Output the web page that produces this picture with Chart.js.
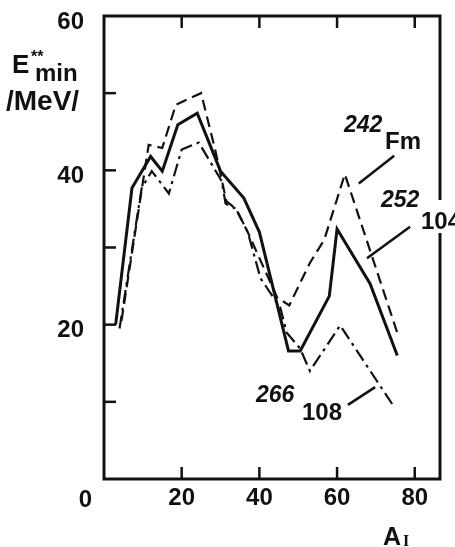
<!DOCTYPE html>
<html lang="en">
<head>
<meta charset="UTF-8">
<title>E*min vs A_I</title>
<script src="https://cdn.jsdelivr.net/npm/chart.js"></script>
<style>
body { margin: 0; background: #fff; }
#wrap { width: 455px; height: 547px; position: relative; }
</style>
</head>
<body>
<div id="wrap"><canvas id="chart"></canvas></div>
<script>
// 242Fm (dashed)
const fmA = [4.5, 11.5, 15, 18.5, 25, 28.7, 31.5, 34, 37, 40.3, 44.6, 47.7, 53, 56.7, 62, 75.6];
const fmE = [20.5, 43.3, 42.9, 48.5, 50, 42.5, 36, 35, 32, 28.3, 23.5, 22.5, 28, 31, 39.5, 18.8];
// 252 104 (solid)
const z104A = [3, 7.2, 12, 15, 19, 24, 30, 36, 40, 47.5, 50.5, 58, 60, 68.5, 75.5];
const z104E = [20, 37.7, 41.8, 39.9, 45.9, 47.4, 39.9, 36.4, 32, 16.6, 16.6, 23.7, 32.4, 25.3, 16];
// 266 108 (dash-dot)
const z108A = [4, 9.7, 12.3, 16.7, 20, 24.4, 30.3, 31.3, 34, 37, 40.3, 45.4, 47, 50.5, 53, 60.8, 74.6];
const z108E = [19.5, 37.7, 39.9, 37, 42.7, 43.6, 38.6, 35.7, 35, 32, 26, 22.2, 19, 16.9, 14, 19.9, 9.4];

const xTicks = [0, 20, 40, 60, 80];
const xTickLabels = ["", "20", "40", "60", "80"];
const yTicks = [10, 20, 30, 40, 50];
const yTickLabels = ["20", "40", "60"];
const yLabelVals = [20, 40, 60];

const pts = (a, e) => a.map((v, i) => ({x: v, y: e[i]}));

// frame, inward ticks, labels, annotations
const decor = {
    id: 'decor',
    afterDraw(chart) {
        const c = chart.ctx, xs = chart.scales.x, ys = chart.scales.y, ca = chart.chartArea;
        const F = '"Liberation Sans", Arial, sans-serif';
        c.save();
        c.strokeStyle = '#111';
        c.fillStyle = '#111';
        c.lineWidth = 3;
        c.strokeRect(ca.left, ca.top, ca.right - ca.left, ca.bottom - ca.top);
        c.lineWidth = 2.5;
        xTicks.slice(1).forEach(v => {
            const px = xs.getPixelForValue(v);
            c.beginPath(); c.moveTo(px, ca.bottom); c.lineTo(px, ca.bottom - 12); c.stroke();
            c.beginPath(); c.moveTo(px, ca.top); c.lineTo(px, ca.top + 12); c.stroke();
        });
        yTicks.forEach(v => {
            const py = ys.getPixelForValue(v);
            c.beginPath(); c.moveTo(ca.left, py); c.lineTo(ca.left + 12, py); c.stroke();
        });
        c.font = 'bold 24px ' + F;
        c.textBaseline = 'middle';
        c.textAlign = 'center';
        xTicks.forEach((v, i) => {
            if (xTickLabels[i]) c.fillText(xTickLabels[i], xs.getPixelForValue(v), 498);
        });
        c.textAlign = 'right';
        yLabelVals.forEach((v, i) => {
            c.fillText(yTickLabels[i], ca.left - 20, ys.getPixelForValue(v) + 6);
        });
        c.fillText("0", ca.left - 12, 500);

        // axis titles
        c.textAlign = 'left';
        c.textBaseline = 'alphabetic';
        c.font = 'bold 26px ' + F;
        c.fillText("E", 12, 73);
        c.font = 'bold 16px ' + F;
        c.fillText("**", 31, 62);
        c.font = 'bold 24px ' + F;
        c.fillText("min", 35, 81);
        c.font = 'bold 28px ' + F;
        c.fillText("/MeV/", 6, 110);
        c.font = 'bold 25px ' + F;
        c.fillText("A", 383, 545);
        c.font = 'bold 16px "Liberation Serif", serif';
        c.fillText("I", 403, 546);

        // break in the right frame behind "104"
        c.fillStyle = '#fff';
        c.fillRect(ca.right - 4, 200, 8, 33);
        c.fillStyle = '#111';

        // curve labels
        c.font = 'italic bold 23px ' + F;
        c.fillText("242", 344, 132);
        c.fillText("252", 381, 207);
        c.fillText("266", 256, 402);
        c.font = 'bold 24px ' + F;
        c.fillText("Fm", 385, 149);
        c.fillText("104", 421, 229);
        c.fillText("108", 302, 420);

        // leader lines (data coords)
        c.lineWidth = 2.5;
        [[74.7, 41.9, 65.6, 38.3], [78.8, 32.7, 67.7, 28.6], [62.8, 9.6, 69.8, 11.9]].forEach(l => {
            c.beginPath();
            c.moveTo(xs.getPixelForValue(l[0]), ys.getPixelForValue(l[1]));
            c.lineTo(xs.getPixelForValue(l[2]), ys.getPixelForValue(l[3]));
            c.stroke();
        });
        c.restore();
    }
};

new Chart(document.getElementById('chart'), {
    type: 'scatter',
    data: {
        datasets: [
            {label: '242Fm', data: pts(fmA, fmE), showLine: true, borderColor: '#111', borderWidth: 2.2, borderDash: [11, 6], pointRadius: 0, tension: 0},
            {label: '266 108', data: pts(z108A, z108E), showLine: true, borderColor: '#111', borderWidth: 2.2, borderDash: [13, 5, 3, 5], pointRadius: 0, tension: 0},
            {label: '252 104', data: pts(z104A, z104E), showLine: true, borderColor: '#111', borderWidth: 3, pointRadius: 0, tension: 0}
        ]
    },
    options: {
        responsive: true,
        maintainAspectRatio: false,
        animation: false,
        layout: {padding: {left: 104, right: 15, top: 16, bottom: 68}},
        plugins: {legend: {display: false}, tooltip: {enabled: false}},
        scales: {
            x: {type: 'linear', min: 0, max: 86.5, display: false},
            y: {type: 'linear', min: 0, max: 60, display: false}
        }
    },
    plugins: [decor]
});
</script>
</body>
</html>
